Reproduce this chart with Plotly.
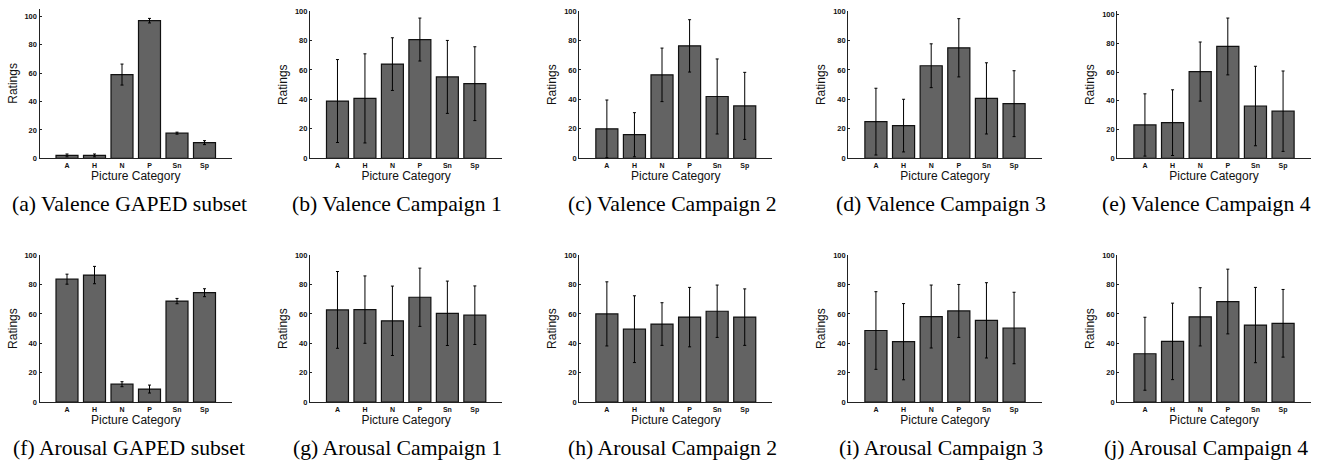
import plotly.graph_objects as go

W, H = 1327, 465

categories = ["A", "H", "N", "P", "Sn", "Sp"]

# Valence
val_gaped = [2, 2, 59, 97, 17.7, 11]
val_gaped_err = [1.0, 1.0, 7.4, 1.6, 0.7, 1.4]
val_c1 = [38.9, 40.7, 64, 80.7, 55.3, 50.7]
val_c1_err = [28.2, 30.3, 17.9, 14.6, 24.8, 25.1]
val_c2 = [20, 16, 56.7, 76.4, 42, 35.6]
val_c2_err = [19.6, 15, 18.2, 17.8, 25.5, 22.8]
val_c3 = [24.9, 22.2, 62.9, 75.1, 40.7, 37.1]
val_c3_err = [22.7, 17.9, 14.9, 19.8, 24.2, 22.4]
val_c4 = [23.2, 24.8, 60.4, 77.9, 36.4, 32.8]
val_c4_err = [21.7, 22.9, 20.6, 19.8, 27.7, 28]

# Arousal
aro_gaped = [83.6, 86.4, 12.2, 8.9, 68.7, 74.4]
aro_gaped_err = [3.4, 5.9, 1.7, 2.7, 1.8, 2.7]
aro_c1 = [62.7, 62.9, 55.3, 71.3, 60.4, 59.1]
aro_c1_err = [26.1, 22.9, 23.6, 19.8, 21.9, 19.9]
aro_c2 = [60, 49.6, 53.1, 57.8, 61.8, 57.8]
aro_c2_err = [21.8, 22.7, 14.5, 20.2, 17.8, 19.2]
aro_c3 = [48.7, 41.1, 58.2, 62, 55.6, 50.4]
aro_c3_err = [26.4, 25.9, 21.4, 18, 25.6, 24.3]
aro_c4 = [32.9, 41.3, 58, 68.4, 52.4, 53.6]
aro_c4_err = [24.8, 26, 19.8, 22, 25.6, 23]

captions = [
    "(a) Valence GAPED subset", "(b) Valence Campaign 1", "(c) Valence Campaign 2",
    "(d) Valence Campaign 3", "(e) Valence Campaign 4",
    "(f) Arousal GAPED subset", "(g) Arousal Campaign 1", "(h) Arousal Campaign 2",
    "(i) Arousal Campaign 3", "(j) Arousal Campaign 4",
]
y_tick_vals = [0, 20, 40, 60, 80, 100]
x_title = "Picture Category"
y_title = "Ratings"

panels = [
    (val_gaped, val_gaped_err), (val_c1, val_c1_err), (val_c2, val_c2_err),
    (val_c3, val_c3_err), (val_c4, val_c4_err),
    (aro_gaped, aro_gaped_err), (aro_c1, aro_c1_err), (aro_c2, aro_c2_err),
    (aro_c3, aro_c3_err), (aro_c4, aro_c4_err),
]

# layout geometry (pixels)
col_px = [(39.5, 232), (310, 502.3), (579.3, 772.3), (848.3, 1041.7), (1117.3, 1310.7)]
row1_bottom = 157.3
row2_top, row2_bottom = 256, 406
row1_tops = [4.7, 7.3, 7.3, 7.3, 7.3]
row1_ymax = [105.5, 100, 100, 100, 102.5]
caption_cx = [129, 397, 672, 941, 1206]
caption_cy = [204, 453]

fig = go.Figure()
layout = dict(
    width=W, height=H, margin=dict(l=0, r=0, t=0, b=0),
    paper_bgcolor="white", plot_bgcolor="white", showlegend=False,
    bargap=0.2, annotations=[],
)

for i, (vals, errs) in enumerate(panels):
    r, c = divmod(i, 5)
    n = i + 1
    xa = "x" if n == 1 else f"x{n}"
    ya = "y" if n == 1 else f"y{n}"
    fig.add_trace(go.Bar(
        x=categories, y=vals, xaxis=xa, yaxis=ya,
        marker=dict(color="#636363", line=dict(color="#111111", width=1.2)),
        error_y=dict(type="data", array=errs, visible=True, color="#000000",
                     thickness=1, width=1.5),
        width=0.8,
    ))
    x0, x1 = col_px[c]
    if r == 0:
        top, bottom, ymax = row1_tops[c], row1_bottom, row1_ymax[c]
    else:
        top, bottom, ymax = row2_top, row2_bottom, 100
    xkey = "xaxis" if n == 1 else f"xaxis{n}"
    ykey = "yaxis" if n == 1 else f"yaxis{n}"
    layout[xkey] = dict(
        domain=[x0 / W, x1 / W], anchor=ya, type="category",
        range=[-1, 6], showgrid=False, zeroline=False,
        showline=True, linecolor="#222222", linewidth=1.2,
        ticks="", tickfont=dict(family="Liberation Sans", size=7, color="#111111", weight="bold"),
        title=dict(text=x_title, font=dict(family="Liberation Sans", size=12, color="#111111"),
                   standoff=2),
    )
    layout[ykey] = dict(
        domain=[1 - bottom / H, 1 - top / H], anchor=xa,
        range=[0, ymax], tickvals=y_tick_vals, showgrid=False, zeroline=False,
        showline=True, linecolor="#222222", linewidth=1.2,
        ticks="inside", ticklen=2, tickcolor="#222222",
        tickfont=dict(family="Liberation Sans", size=7.5, color="#111111", weight="bold"),
        title=dict(text=y_title, font=dict(family="Liberation Sans", size=12, color="#111111"),
                   standoff=4),
    )
    layout["annotations"].append(dict(
        text=captions[i], xref="paper", yref="paper",
        x=caption_cx[c] / W, y=1 - caption_cy[r] / H,
        xanchor="center", yanchor="middle", showarrow=False,
        font=dict(family="Liberation Serif", size=21.7, color="#000000"),
    ))

fig.update_layout(**layout)
fig.write_html(
    "out.html",
    config={"displayModeBar": False},
    post_script="document.body.style.margin='0';document.body.style.overflow='hidden';",
)
